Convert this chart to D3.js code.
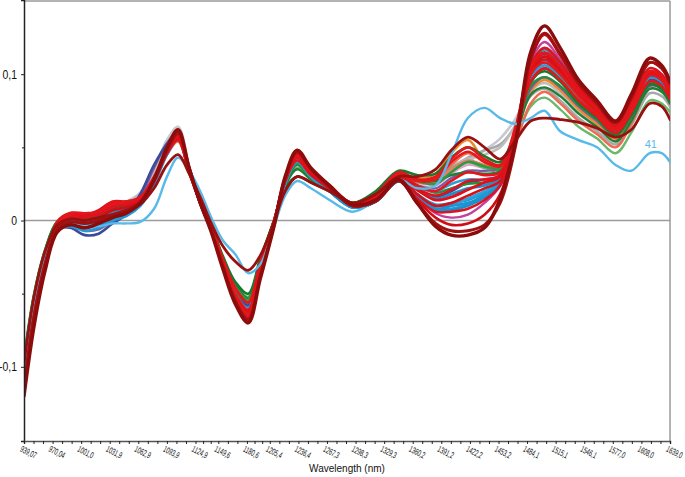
<!DOCTYPE html>
<html><head><meta charset="utf-8">
<script src="https://cdn.jsdelivr.net/npm/d3@7"></script>
<style>body{margin:0;background:#fff}svg{display:block}</style>
</head><body>
<svg id="c" width="685" height="477"></svg>
<script>
const wavelengths = [939.07,950,962,975,989,1005,1020,1035,1050,1065,1080,1094,1106,1118,1130,1142,1155,1168,1182,1195,1210,1222,1235,1250,1270,1295,1320,1345,1365,1385,1402,1420,1438,1455,1472,1488,1503,1520,1540,1560,1580,1597,1617,1630,1639];

const xTickValues = [939.07,970.04,1001.0,1031.9,1062.9,1093.9,1124.9,1149.6,1180.6,1205.4,1236.4,1267.3,1298.3,1329.3,1360.2,1391.2,1422.2,1453.2,1484.1,1515.1,1546.1,1577.0,1608.0,1639.0];
const xTickLabels = ["939,07","970,04","1001,0","1031,9","1062,9","1093,9","1124,9","1149,6","1180,6","1205,4","1236,4","1267,3","1298,3","1329,3","1360,2","1391,2","1422,2","1453,2","1484,1","1515,1","1546,1","1577,0","1608,0","1639,0"];
const yTickValues = [-0.1, 0, 0.1];
const yTickLabels = ["-0,1", "0", "0,1"];
const yMinorTicks = [-0.05, 0.05];

const s15 = [-0.102,-0.056,-0.023,-0.002,0.002,0.002,0.005,0.010,0.013,0.019,0.035,0.055,0.064,0.037,0.013,-0.006,-0.030,-0.050,-0.060,-0.032,-0.001,0.027,0.042,0.032,0.022,0.011,0.016,0.030,0.026,0.028,0.034,0.040,0.048,0.056,0.070,0.090,0.097,0.090,0.077,0.068,0.058,0.071,0.093,0.090,0.083];
const s14 = [-0.100,-0.054,-0.022,-0.003,0.001,0.001,0.004,0.009,0.012,0.017,0.032,0.050,0.059,0.035,0.013,-0.005,-0.029,-0.049,-0.059,-0.031,-0.001,0.026,0.040,0.031,0.022,0.011,0.017,0.031,0.026,0.027,0.036,0.043,0.048,0.052,0.065,0.085,0.090,0.082,0.070,0.061,0.052,0.065,0.087,0.085,0.078];
const s30 = [-0.099,-0.054,-0.022,-0.002,0.002,0.002,0.004,0.009,0.012,0.018,0.033,0.052,0.061,0.036,0.013,-0.005,-0.029,-0.048,-0.057,-0.030,-0.001,0.026,0.040,0.031,0.022,0.011,0.017,0.031,0.027,0.029,0.037,0.042,0.045,0.050,0.066,0.088,0.094,0.087,0.074,0.065,0.055,0.068,0.090,0.088,0.080];
const s21 = [-0.100,-0.055,-0.023,-0.003,0.000,-0.001,0.002,0.006,0.009,0.014,0.029,0.048,0.058,0.035,0.013,-0.005,-0.028,-0.048,-0.058,-0.030,-0.001,0.026,0.041,0.031,0.022,0.011,0.016,0.030,0.024,0.024,0.032,0.038,0.036,0.036,0.062,0.096,0.106,0.098,0.084,0.073,0.062,0.076,0.097,0.094,0.086];
const s13 = [-0.099,-0.054,-0.022,-0.002,0.002,0.001,0.003,0.007,0.009,0.014,0.028,0.047,0.056,0.034,0.014,-0.004,-0.026,-0.044,-0.052,-0.027,0.000,0.024,0.036,0.029,0.021,0.012,0.019,0.032,0.028,0.028,0.036,0.040,0.036,0.035,0.055,0.078,0.084,0.076,0.064,0.056,0.046,0.060,0.082,0.080,0.074];
const s18 = [-0.100,-0.055,-0.023,-0.003,0.001,0.000,0.002,0.006,0.008,0.013,0.027,0.045,0.054,0.033,0.013,-0.004,-0.026,-0.045,-0.054,-0.028,0.000,0.025,0.038,0.030,0.021,0.011,0.017,0.031,0.027,0.028,0.038,0.046,0.040,0.036,0.054,0.080,0.088,0.080,0.068,0.059,0.050,0.066,0.092,0.090,0.080];
const s31 = [-0.103,-0.057,-0.024,-0.003,0.001,0.000,0.003,0.007,0.009,0.014,0.028,0.046,0.056,0.034,0.013,-0.005,-0.028,-0.048,-0.058,-0.030,-0.001,0.026,0.040,0.031,0.021,0.011,0.017,0.031,0.026,0.026,0.035,0.041,0.038,0.036,0.058,0.090,0.098,0.090,0.077,0.067,0.056,0.070,0.094,0.092,0.083];
const s17 = [-0.104,-0.057,-0.024,-0.003,0.002,0.002,0.004,0.008,0.010,0.014,0.028,0.046,0.055,0.033,0.013,-0.004,-0.027,-0.046,-0.055,-0.029,0.000,0.026,0.039,0.030,0.021,0.011,0.018,0.032,0.029,0.032,0.046,0.055,0.040,0.031,0.056,0.088,0.096,0.089,0.076,0.066,0.056,0.071,0.096,0.094,0.085];
const s20 = [-0.101,-0.056,-0.024,-0.005,-0.003,-0.007,-0.006,0.000,0.006,0.016,0.036,0.053,0.060,0.036,0.013,-0.005,-0.028,-0.047,-0.056,-0.029,0.000,0.026,0.039,0.030,0.021,0.011,0.016,0.030,0.024,0.022,0.029,0.034,0.034,0.036,0.060,0.090,0.098,0.091,0.078,0.068,0.058,0.071,0.092,0.090,0.082];
const s19 = [-0.103,-0.058,-0.025,-0.006,-0.005,-0.010,-0.009,-0.002,0.004,0.018,0.038,0.052,0.059,0.035,0.013,-0.005,-0.029,-0.049,-0.058,-0.030,-0.001,0.026,0.040,0.030,0.021,0.010,0.015,0.029,0.021,0.016,0.020,0.026,0.028,0.031,0.058,0.094,0.104,0.096,0.082,0.072,0.061,0.075,0.096,0.093,0.085];
const s16 = [-0.107,-0.060,-0.026,-0.004,0.000,-0.001,0.001,0.006,0.008,0.013,0.028,0.047,0.057,0.034,0.012,-0.006,-0.031,-0.053,-0.064,-0.034,-0.002,0.027,0.043,0.032,0.022,0.010,0.014,0.028,0.016,0.005,0.002,0.004,0.012,0.024,0.060,0.108,0.122,0.110,0.091,0.079,0.066,0.080,0.102,0.099,0.090];
const s32 = [-0.095,-0.051,-0.020,-0.001,0.003,0.002,0.004,0.008,0.010,0.015,0.029,0.047,0.056,0.034,0.014,-0.004,-0.026,-0.044,-0.053,-0.027,0.000,0.024,0.035,0.028,0.021,0.012,0.019,0.033,0.028,0.027,0.031,0.033,0.032,0.034,0.058,0.086,0.091,0.085,0.073,0.064,0.054,0.068,0.090,0.088,0.080];
const s12 = [-0.094,-0.050,-0.020,-0.001,0.003,0.002,0.003,0.007,0.009,0.014,0.029,0.048,0.058,0.035,0.014,-0.004,-0.027,-0.045,-0.054,-0.028,0.000,0.026,0.039,0.030,0.022,0.012,0.019,0.033,0.027,0.025,0.033,0.040,0.037,0.036,0.060,0.094,0.104,0.097,0.082,0.071,0.060,0.074,0.094,0.092,0.084];
const s27 = [-0.096,-0.051,-0.021,-0.002,0.002,0.001,0.003,0.007,0.009,0.014,0.028,0.047,0.057,0.034,0.013,-0.004,-0.027,-0.047,-0.056,-0.029,0.000,0.025,0.038,0.029,0.021,0.011,0.018,0.032,0.024,0.019,0.022,0.025,0.026,0.030,0.058,0.092,0.098,0.092,0.079,0.069,0.058,0.072,0.093,0.090,0.082];
const s11 = [-0.097,-0.052,-0.021,-0.001,0.003,0.002,0.004,0.008,0.010,0.014,0.028,0.046,0.055,0.033,0.013,-0.004,-0.025,-0.042,-0.050,-0.026,0.000,0.022,0.030,0.026,0.020,0.012,0.020,0.034,0.031,0.032,0.043,0.050,0.044,0.040,0.062,0.095,0.102,0.095,0.080,0.070,0.059,0.072,0.093,0.090,0.082];
const s10 = [-0.101,-0.055,-0.023,-0.004,-0.002,-0.004,-0.002,0.003,0.006,0.012,0.027,0.047,0.057,0.034,0.013,-0.005,-0.029,-0.050,-0.061,-0.031,-0.001,0.026,0.041,0.031,0.021,0.010,0.015,0.029,0.021,0.015,0.018,0.022,0.024,0.029,0.060,0.100,0.112,0.104,0.090,0.078,0.066,0.079,0.100,0.097,0.088];
const s29 = [-0.102,-0.056,-0.024,-0.004,-0.001,-0.002,0.000,0.004,0.007,0.013,0.028,0.047,0.057,0.034,0.013,-0.005,-0.029,-0.050,-0.060,-0.031,-0.001,0.026,0.041,0.031,0.021,0.010,0.015,0.030,0.023,0.020,0.025,0.028,0.028,0.031,0.061,0.098,0.106,0.099,0.085,0.074,0.063,0.077,0.098,0.095,0.086];
const s9 = [-0.103,-0.057,-0.025,-0.006,-0.004,-0.007,-0.005,0.000,0.003,0.010,0.025,0.045,0.056,0.034,0.012,-0.006,-0.030,-0.052,-0.063,-0.033,-0.002,0.025,0.040,0.030,0.020,0.009,0.013,0.027,0.017,0.008,0.008,0.011,0.018,0.026,0.058,0.098,0.110,0.102,0.088,0.077,0.065,0.078,0.098,0.095,0.087];
const s25 = [-0.105,-0.058,-0.025,-0.004,-0.001,-0.002,0.000,0.005,0.008,0.013,0.028,0.047,0.058,0.035,0.013,-0.005,-0.030,-0.053,-0.065,-0.034,-0.002,0.026,0.042,0.031,0.021,0.010,0.014,0.028,0.018,0.011,0.012,0.014,0.019,0.026,0.060,0.099,0.108,0.101,0.087,0.076,0.064,0.077,0.098,0.095,0.087];
const s24 = [-0.098,-0.053,-0.022,-0.004,-0.001,-0.003,-0.001,0.004,0.007,0.013,0.028,0.048,0.058,0.035,0.013,-0.005,-0.030,-0.052,-0.064,-0.033,-0.001,0.026,0.041,0.030,0.020,0.009,0.013,0.027,0.018,0.010,0.011,0.015,0.020,0.027,0.062,0.104,0.114,0.106,0.091,0.079,0.066,0.079,0.099,0.096,0.088];
const s34 = [-0.104,-0.058,-0.025,-0.005,-0.003,-0.005,-0.003,0.002,0.005,0.012,0.027,0.047,0.057,0.034,0.012,-0.006,-0.031,-0.054,-0.066,-0.035,-0.002,0.026,0.041,0.031,0.020,0.009,0.013,0.027,0.016,0.007,0.007,0.010,0.016,0.025,0.060,0.101,0.112,0.104,0.090,0.078,0.066,0.079,0.099,0.096,0.088];
const s8 = [-0.106,-0.059,-0.026,-0.005,-0.002,-0.003,-0.002,0.003,0.006,0.012,0.026,0.046,0.057,0.034,0.012,-0.006,-0.031,-0.054,-0.066,-0.035,-0.002,0.026,0.042,0.031,0.021,0.009,0.013,0.028,0.016,0.008,0.010,0.012,0.016,0.024,0.060,0.104,0.117,0.108,0.092,0.080,0.067,0.080,0.101,0.098,0.089];
const s6 = [-0.104,-0.057,-0.024,-0.002,0.004,0.004,0.006,0.011,0.012,0.015,0.028,0.046,0.055,0.033,0.013,-0.004,-0.027,-0.046,-0.056,-0.029,0.000,0.027,0.041,0.031,0.022,0.011,0.017,0.031,0.024,0.020,0.027,0.033,0.031,0.033,0.060,0.095,0.104,0.096,0.082,0.071,0.060,0.074,0.095,0.092,0.083];
const s33 = [-0.109,-0.061,-0.026,-0.003,0.003,0.003,0.005,0.010,0.012,0.015,0.028,0.047,0.057,0.034,0.012,-0.005,-0.030,-0.051,-0.062,-0.032,-0.001,0.027,0.043,0.032,0.022,0.011,0.016,0.030,0.022,0.017,0.021,0.027,0.028,0.031,0.061,0.100,0.110,0.102,0.087,0.075,0.063,0.077,0.100,0.097,0.088];
const s5 = [-0.108,-0.060,-0.026,-0.004,0.002,0.003,0.005,0.010,0.011,0.014,0.027,0.046,0.056,0.033,0.012,-0.006,-0.031,-0.053,-0.064,-0.033,-0.002,0.027,0.043,0.032,0.022,0.010,0.014,0.029,0.018,0.010,0.012,0.017,0.022,0.027,0.058,0.100,0.112,0.103,0.087,0.075,0.064,0.078,0.100,0.096,0.086];
const s26 = [-0.110,-0.061,-0.026,-0.002,0.004,0.004,0.006,0.011,0.012,0.015,0.029,0.047,0.057,0.034,0.013,-0.005,-0.029,-0.050,-0.061,-0.032,-0.001,0.028,0.043,0.033,0.023,0.012,0.018,0.032,0.027,0.028,0.040,0.047,0.040,0.037,0.063,0.100,0.108,0.100,0.085,0.073,0.062,0.076,0.099,0.096,0.087];
const s22 = [-0.118,-0.068,-0.030,-0.001,0.005,0.004,0.007,0.013,0.013,0.015,0.028,0.047,0.057,0.034,0.012,-0.006,-0.031,-0.052,-0.062,-0.032,-0.001,0.028,0.044,0.033,0.023,0.011,0.016,0.030,0.021,0.014,0.016,0.021,0.026,0.030,0.062,0.103,0.114,0.105,0.089,0.077,0.065,0.079,0.101,0.098,0.089];
const s28 = [-0.113,-0.064,-0.028,-0.004,0.002,0.002,0.004,0.009,0.011,0.014,0.028,0.047,0.058,0.035,0.012,-0.006,-0.032,-0.054,-0.066,-0.035,-0.002,0.028,0.045,0.034,0.023,0.010,0.014,0.028,0.015,0.006,0.006,0.008,0.014,0.024,0.061,0.106,0.118,0.108,0.091,0.079,0.066,0.080,0.104,0.100,0.090];
const s4 = [-0.112,-0.062,-0.027,-0.003,0.005,0.005,0.006,0.012,0.013,0.016,0.030,0.048,0.058,0.035,0.013,-0.005,-0.030,-0.052,-0.064,-0.034,-0.001,0.029,0.045,0.034,0.024,0.012,0.018,0.033,0.028,0.030,0.042,0.050,0.042,0.038,0.065,0.105,0.115,0.105,0.088,0.076,0.063,0.078,0.102,0.098,0.088];
const s7 = [-0.116,-0.066,-0.030,-0.005,0.001,0.000,0.002,0.007,0.009,0.013,0.028,0.048,0.059,0.035,0.012,-0.007,-0.033,-0.055,-0.067,-0.037,-0.003,0.029,0.046,0.035,0.023,0.010,0.014,0.028,0.014,0.002,-0.003,-0.002,0.004,0.018,0.058,0.110,0.127,0.113,0.093,0.080,0.067,0.083,0.108,0.104,0.093];
const s41 = [-0.100,-0.055,-0.025,-0.006,-0.003,-0.003,-0.004,-0.002,-0.002,-0.001,0.008,0.030,0.043,0.034,0.020,0.002,-0.014,-0.023,-0.036,-0.030,-0.004,0.017,0.027,0.022,0.014,0.006,0.014,0.028,0.022,0.024,0.045,0.070,0.077,0.070,0.066,0.070,0.075,0.061,0.055,0.050,0.038,0.034,0.046,0.046,0.040];
const s2 = [-0.098,-0.052,-0.021,-0.003,0.001,0.000,0.002,0.004,0.006,0.011,0.022,0.038,0.045,0.032,0.016,-0.002,-0.018,-0.028,-0.034,-0.024,-0.001,0.020,0.030,0.026,0.020,0.012,0.018,0.030,0.030,0.035,0.048,0.057,0.050,0.042,0.055,0.068,0.070,0.069,0.067,0.063,0.057,0.062,0.080,0.078,0.069];
const s23 = [-0.114,-0.065,-0.029,-0.006,-0.001,-0.002,0.000,0.004,0.007,0.012,0.027,0.048,0.060,0.036,0.012,-0.007,-0.032,-0.055,-0.068,-0.038,-0.003,0.029,0.047,0.035,0.023,0.010,0.013,0.027,0.012,-0.002,-0.007,-0.007,-0.003,0.012,0.052,0.110,0.128,0.114,0.094,0.080,0.067,0.084,0.108,0.104,0.094];
const s1 = [-0.120,-0.072,-0.034,-0.008,-0.003,-0.005,-0.002,0.002,0.005,0.012,0.028,0.050,0.062,0.036,0.012,-0.008,-0.034,-0.057,-0.070,-0.040,-0.004,0.030,0.048,0.036,0.024,0.011,0.014,0.028,0.012,-0.004,-0.010,-0.010,-0.005,0.015,0.055,0.115,0.133,0.118,0.096,0.082,0.068,0.086,0.111,0.106,0.095];

const seriesValues = [s15,s14,s30,s21,s13,s18,s31,s17,s20,s19,s16,s32,s12,s27,s11,s10,s29,s9,s25,s24,s34,s8,s6,s33,s5,s26,s22,s28,s4,s7,s41,s2,s23,s1];
const seriesColors = ["#c6c9d2","#a8a8a8","#bdbdbd","#e6a2c6","#6cb86a","#ef6a52","#f07b6b","#f0892c","#7b5ba8","#3b4b9c","#c3429b","#1f7f34","#2c9b44","#23913c","#18792f","#1e90d0","#2a9fdc","#2399d6","#1f97d5","#2aa3de","#1a8fcf","#1b94d2","#e8141c","#e0121b","#d51018","#e31a1c","#e01019","#dc1420","#e3161b","#cf0d16","#58bae9","#981010","#a01212","#8c0c0c"];
const seriesWidths = [2.6,2.6,2.6,2.4,2.4,2.4,2.4,2.4,2.4,2.6,2.4,2.4,2.6,2.4,2.6,2.8,2.6,2.8,2.6,2.8,2.6,2.8,2.6,2.6,2.6,2.6,2.8,2.6,2.6,2.6,2.4,2.8,3.0,3.4];

const svg = d3.select("#c");
const L = 24, R = 670, T = 0, B = 441;
const x = d3.scaleLinear().domain([939.07, 1639.0]).range([L, R]);
const y = d3.scaleLinear().domain([-0.1507, 0.1507]).range([B, T]);
const FONT = "Liberation Sans, Arial, sans-serif";

svg.append("defs").append("clipPath").attr("id","clip")
  .append("rect").attr("x", L).attr("y", T).attr("width", R - L).attr("height", B - T);

svg.append("line").attr("x1", L).attr("x2", R).attr("y1", 1).attr("y2", 1).attr("stroke", "#9a9a9a").attr("stroke-width", 1.5);
svg.append("line").attr("x1", R).attr("x2", R).attr("y1", 1).attr("y2", B).attr("stroke", "#9a9a9a").attr("stroke-width", 1.5);
svg.append("line").attr("x1", L).attr("x2", R).attr("y1", y(0)).attr("y2", y(0)).attr("stroke", "#9c9c9c").attr("stroke-width", 1.5);

const line = d3.line().x((d, i) => x(wavelengths[i])).y(d => y(d)).curve(d3.curveCatmullRom.alpha(0.5));
const g = svg.append("g").attr("clip-path", "url(#clip)");
seriesValues.forEach((vals, k) => {
  g.append("path").attr("d", line(vals)).attr("fill", "none")
    .attr("stroke", seriesColors[k]).attr("stroke-width", seriesWidths[k])
    .attr("stroke-linejoin", "round").attr("stroke-linecap", "round");
});

svg.append("text").attr("x", x(1617) - 5).attr("y", y(0.0495))
  .attr("font-family", FONT).attr("font-size", 11).attr("fill", "#58bae9").text("41");

// y axis
const yAxis = d3.axisLeft(y).tickValues(yTickValues).tickSize(3).tickFormat((d, i) => yTickLabels[i]);
const ya = svg.append("g").attr("transform", `translate(${L},0)`).call(yAxis);
ya.select(".domain").attr("stroke", "#222").attr("stroke-width", 1.5);
ya.selectAll(".tick line").attr("stroke", "#222");
ya.selectAll("text").attr("font-family", FONT).attr("font-size", 13).attr("fill", "#111")
  .attr("x", 0).attr("transform", "translate(-7,0) scale(0.8,1)");
const ym = svg.append("g").attr("transform", `translate(${L},0)`)
  .call(d3.axisLeft(y).tickValues(yMinorTicks).tickSize(2).tickFormat(""));
ym.select(".domain").remove();
ym.selectAll(".tick line").attr("stroke", "#222");

// x axis
const xMinor = [];
for (let i = 0; i < xTickValues.length - 1; i++) {
  const a = xTickValues[i], b = xTickValues[i + 1];
  xMinor.push(a + (b - a) / 3, a + 2 * (b - a) / 3);
}
const xAxis = d3.axisBottom(x).tickValues(xTickValues).tickSize(3).tickFormat((d, i) => xTickLabels[i]);
const xa = svg.append("g").attr("transform", `translate(0,${B})`).call(xAxis);
xa.select(".domain").attr("stroke", "#555").attr("stroke-width", 1.5);
xa.selectAll(".tick line").attr("stroke", "#222");
xa.selectAll("text")
  .attr("font-family", FONT).attr("font-size", 9).attr("fill", "#111")
  .attr("text-anchor", "start").attr("dy", 0).attr("y", 0)
  .attr("transform", "translate(-5,10) rotate(27) scale(0.62,1)");
const xm = svg.append("g").attr("transform", `translate(0,${B})`)
  .call(d3.axisBottom(x).tickValues(xMinor).tickSize(3).tickFormat(""));
xm.select(".domain").remove();
xm.selectAll(".tick line").attr("stroke", "#222");

svg.append("text").attr("x", 347).attr("y", 472).attr("text-anchor", "middle")
  .attr("font-family", FONT).attr("font-size", 10).attr("fill", "#111")
  .text("Wavelength (nm)");
</script>
</body></html>
